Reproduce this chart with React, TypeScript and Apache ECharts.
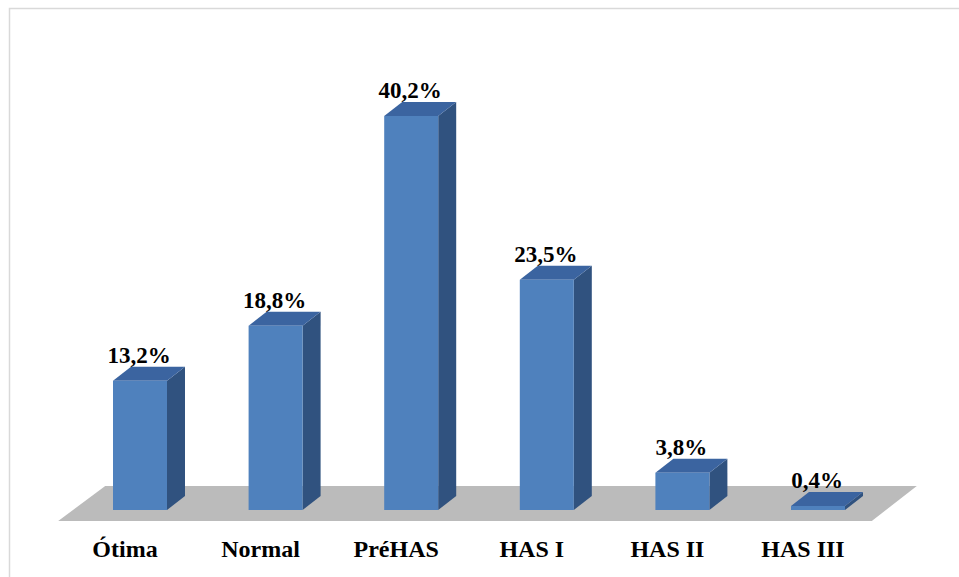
import React, { useEffect, useRef } from "react";
import * as echarts from "echarts";

const categories = ["Ótima", "Normal", "PréHAS", "HAS I", "HAS II", "HAS III"];
const values = [13.2, 18.8, 40.2, 23.5, 3.8, 0.4];

const FONT = "'Liberation Serif', 'Times New Roman', serif";

export default function App() {
  const ref = useRef<HTMLDivElement>(null);
  useEffect(() => {
    if (!ref.current) return;
    const chart = echarts.init(ref.current, undefined, { renderer: "svg" });
    const BAR_W = 54;
    const DX = 18;
    const DY = 14;
    chart.setOption({
      animation: false,
      backgroundColor: "#ffffff",
      grid: { left: 72.2, width: 813.6, top: 20, bottom: 67, containLabel: false },
      xAxis: {
        type: "category",
        data: categories,
        axisLine: { show: false },
        axisTick: { show: false },
        splitLine: { show: false },
        axisLabel: {
          color: "#000",
          fontFamily: FONT,
          fontWeight: "bold",
          fontSize: 24,
          margin: 27,
          padding: [0, 30, 0, 0],
        },
      },
      yAxis: { type: "value", min: 0, max: 50, show: false, splitLine: { show: false } },
      graphic: [
        {
          type: "rect",
          shape: { x: 9.5, y: 8.5, width: 1000, height: 700 },
          style: { fill: "none", stroke: "#D9D9D9", lineWidth: 1.5 },
          silent: true,
          z: 0,
        },
      ],
      series: [
        {
          type: "custom",
          silent: true,
          z: 1,
          data: [[0, 0]],
          renderItem: (params: any, api: any) => {
            const cs = params.coordSys;
            const y0 = cs.y + cs.height;
            return {
              type: "polygon",
              shape: {
                points: [
                  [cs.x - 14, y0 + 11],
                  [cs.x + cs.width - 14, y0 + 11],
                  [cs.x + cs.width + 31, y0 - 24],
                  [cs.x + 33, y0 - 24],
                ],
              },
              style: { fill: "#BBBBBB" },
            };
          },
        },
        {
          type: "custom",
          silent: true,
          z: 2,
          data: values.map((v, i) => [i, v]),
          renderItem: (params: any, api: any) => {
            const i = api.value(0);
            const v = api.value(1);
            const [cx, y0] = api.coord([i, 0]);
            const [, y1] = api.coord([i, v]);
            const xl = cx - BAR_W / 2;
            const xr = cx + BAR_W / 2;
            const label = v.toFixed(1).replace(".", ",") + "%";
            return {
              type: "group",
              children: [
                {
                  type: "polygon",
                  shape: {
                    points: [
                      [xr, y1],
                      [xr + DX, y1 - DY],
                      [xr + DX, y0 - DY],
                      [xr, y0],
                    ],
                  },
                  style: { fill: "#30527F" },
                },
                {
                  type: "polygon",
                  shape: {
                    points: [
                      [xl, y1],
                      [xr, y1],
                      [xr + DX, y1 - DY],
                      [xl + DX, y1 - DY],
                    ],
                  },
                  style: { fill: "#3B64A0" },
                },
                {
                  type: "rect",
                  shape: { x: xl, y: y1, width: BAR_W, height: y0 - y1 },
                  style: { fill: "#4F81BD" },
                },
                {
                  type: "text",
                  style: {
                    text: label,
                    x: cx - 1,
                    y: y1 - DY,
                    align: "center",
                    verticalAlign: "bottom",
                    fontFamily: FONT,
                    fontWeight: "bold",
                    fontSize: 23,
                    fill: "#000",
                  },
                },
              ],
            };
          },
        },
      ],
    });
    return () => chart.dispose();
  }, []);
  return (
    <div
      ref={ref}
      style={{ position: "fixed", left: 0, top: 0, width: 959, height: 577 }}
    />
  );
}
